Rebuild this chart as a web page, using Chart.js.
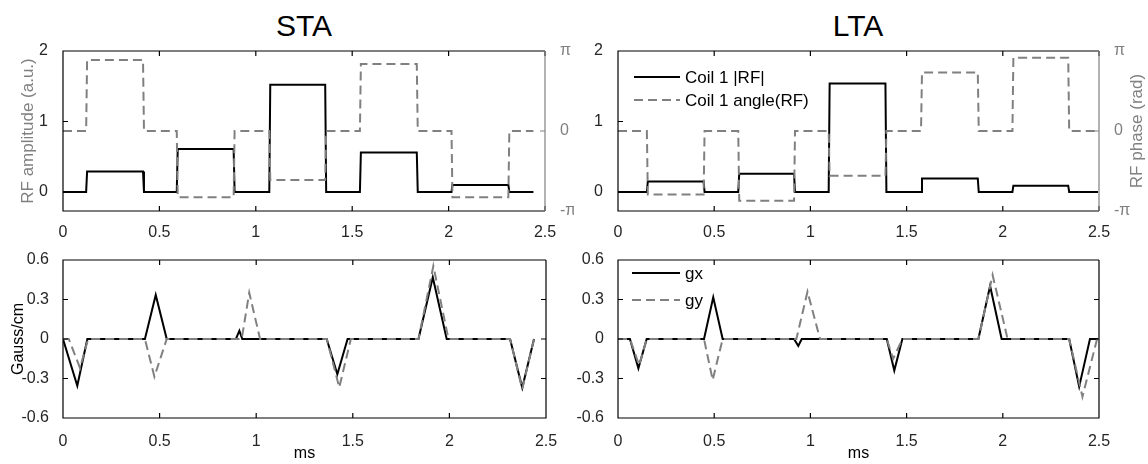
<!DOCTYPE html>
<html>
<head>
<meta charset="utf-8">
<script src="https://cdn.jsdelivr.net/npm/chart.js@4.4.1/dist/chart.umd.min.js"></script>
<style>
  body { margin: 0; background: #fff; }
  #wrap { position: relative; width: 1148px; height: 464px; font-family: "Liberation Sans", Arial, Helvetica, sans-serif; }
  #wrap canvas { position: absolute; }
  .title { position: absolute; top: 11px; width: 200px; text-align: center; font-size: 30px; line-height: 30px; color: #000; }
</style>
</head>
<body>
<div id="wrap">
  <div class="title" style="left:204px">STA</div>
  <div class="title" style="left:758px">LTA</div>
  <canvas id="staRf" width="574" height="240" style="left:0;top:0"></canvas>
  <canvas id="ltaRf" width="574" height="240" style="left:574px;top:0"></canvas>
  <canvas id="staGrad" width="574" height="224" style="left:0;top:240px"></canvas>
  <canvas id="ltaGrad" width="574" height="224" style="left:574px;top:240px"></canvas>
</div>
<script>
// tick values and labels
const xTicks = [0, 0.5, 1, 1.5, 2, 2.5];
const xTickLabels = ['0', '0.5', '1', '1.5', '2', '2.5'];
const ampTicks = [0, 1, 2];
const ampTickLabels = ['0', '1', '2'];
const phaseTicks = [-Math.PI, 0, Math.PI];
const phaseTickLabels = ['-π', '0', 'π'];
const gradTicks = [-0.6, -0.3, 0, 0.3, 0.6];
const gradTickLabels = ['-0.6', '-0.3', '0', '0.3', '0.6'];

// STA RF pulse (ms, a.u., rad)
const staRfTime  = [0, 0.12, 0.125, 0.415, 0.42, 0.59, 0.595, 0.885, 0.89, 1.07, 1.075, 1.36, 1.365, 1.54, 1.545, 1.835, 1.84, 2.015, 2.02, 2.31, 2.315, 2.44];
const staRfAmp   = [0, 0, 0.29, 0.29, 0, 0, 0.61, 0.61, 0, 0, 1.52, 1.52, 0, 0, 0.56, 0.56, 0, 0, 0.1, 0.1, 0, 0];
const staRfPhase = [0, 0, 2.79, 2.79, 0, 0, -2.6, -2.6, 0, 0, -1.92, -1.92, 0, 0, 2.63, 2.63, 0, 0, -2.6, -2.6, 0, 0];

// LTA RF pulse
const ltaRfTime  = [0, 0.15, 0.155, 0.445, 0.45, 0.625, 0.63, 0.915, 0.92, 1.095, 1.1, 1.39, 1.395, 1.575, 1.58, 1.87, 1.875, 2.05, 2.055, 2.34, 2.345, 2.495];
const ltaRfAmp   = [0, 0, 0.15, 0.15, 0, 0, 0.26, 0.26, 0, 0, 1.54, 1.54, 0, 0, 0.19, 0.19, 0, 0, 0.09, 0.09, 0, 0];
const ltaRfPhase = [0, 0, -2.49, -2.49, 0, 0, -2.74, -2.74, 0, 0, -1.76, -1.76, 0, 0, 2.3, 2.3, 0, 0, 2.88, 2.88, 0, 0];

// STA gradients (Gauss/cm)
const staGxTime = [0, 0.074, 0.126, 0.424, 0.48, 0.537, 0.895, 0.913, 0.928, 1.365, 1.42, 1.473, 1.84, 1.914, 1.986, 2.314, 2.377, 2.438];
const staGx     = [0, -0.355, 0, 0, 0.334, 0, 0, 0.063, 0, 0, -0.268, 0, 0, 0.469, 0, 0, -0.37, 0];
const staGyTime = [0, 0.03, 0.088, 0.13, 0.424, 0.473, 0.537, 0.925, 0.964, 1.02, 1.365, 1.43, 1.49, 1.84, 1.917, 1.995, 2.314, 2.377, 2.438];
const staGy     = [0, 0, -0.22, 0, 0, -0.286, 0, 0, 0.352, 0, 0, -0.367, 0, 0, 0.555, 0, 0, -0.38, 0];

// LTA gradients
const ltaGxTime = [0, 0.062, 0.106, 0.149, 0.447, 0.495, 0.544, 0.915, 0.937, 0.955, 1.397, 1.436, 1.478, 1.873, 1.934, 1.994, 2.345, 2.397, 2.453, 2.495];
const ltaGx     = [0, 0, -0.223, 0, 0, 0.317, 0, 0, -0.053, 0, 0, -0.24, 0, 0, 0.403, 0, 0, -0.362, 0, 0];
const ltaGyTime = [0, 0.062, 0.11, 0.149, 0.447, 0.492, 0.544, 0.927, 0.985, 1.05, 1.397, 1.43, 1.478, 1.873, 1.947, 2.025, 2.345, 2.414, 2.49];
const ltaGy     = [0, 0, -0.2, 0, 0, -0.311, 0, 0, 0.36, 0, 0, -0.15, 0, 0, 0.486, 0, 0, -0.438, 0];

const FONT = '"Liberation Sans", Arial, Helvetica, sans-serif';
const INK = '#262626';
const GRAY = '#808080';

function pts(t, v) {
    return t.map((x, i) => ({ x: x, y: v[i] }));
}

function fixedTicks(values) {
    return scale => { scale.ticks = values.map(v => ({ value: v })); };
}

// matlab-like box, inward ticks, inner legend, right-hand label
const matlabAxes = {
    id: 'matlabAxes',
    afterDatasetsDraw(chart, args, opts) {
        const { ctx, chartArea: a, scales } = chart;
        const tl = 5;
        ctx.save();
        ctx.lineWidth = 1.2;
        ctx.strokeStyle = '#000';
        ctx.beginPath();
        scales.x.ticks.forEach(tk => {
            const px = scales.x.getPixelForValue(tk.value);
            ctx.moveTo(px, a.bottom); ctx.lineTo(px, a.bottom - tl);
            ctx.moveTo(px, a.top); ctx.lineTo(px, a.top + tl);
        });
        scales.y.ticks.forEach(tk => {
            const py = scales.y.getPixelForValue(tk.value);
            ctx.moveTo(a.left, py); ctx.lineTo(a.left + tl, py);
            if (opts.mirrorY) { ctx.moveTo(a.right, py); ctx.lineTo(a.right - tl, py); }
        });
        ctx.moveTo(a.right, a.top); ctx.lineTo(a.left, a.top);
        ctx.lineTo(a.left, a.bottom); ctx.lineTo(a.right, a.bottom);
        if (opts.mirrorY) ctx.lineTo(a.right, a.top);
        ctx.stroke();

        if (scales.y2) {
            ctx.strokeStyle = GRAY;
            ctx.beginPath();
            ctx.moveTo(a.right, a.top); ctx.lineTo(a.right, a.bottom);
            scales.y2.ticks.forEach(tk => {
                const py = scales.y2.getPixelForValue(tk.value);
                ctx.moveTo(a.right, py); ctx.lineTo(a.right - tl, py);
            });
            ctx.stroke();
        }

        if (opts.legend) {
            const L = opts.legend;
            ctx.font = '17px ' + FONT;
            ctx.textBaseline = 'middle';
            ctx.textAlign = 'left';
            chart.data.datasets.forEach((ds, i) => {
                const y = a.top + L.y + i * L.gap;
                ctx.strokeStyle = ds.borderColor;
                ctx.lineWidth = ds.borderWidth;
                ctx.setLineDash(ds.borderDash || []);
                ctx.beginPath();
                ctx.moveTo(a.left + L.x, y);
                ctx.lineTo(a.left + L.x + L.len, y);
                ctx.stroke();
                ctx.setLineDash([]);
                ctx.fillStyle = '#000';
                ctx.fillText(ds.label, a.left + L.x + L.len + 5, y + 1);
            });
        }

        if (opts.rightTitle) {
            ctx.font = '17px ' + FONT;
            ctx.fillStyle = GRAY;
            ctx.textAlign = 'center';
            ctx.textBaseline = 'middle';
            ctx.translate(chart.width - 11, (a.top + a.bottom) / 2);
            ctx.rotate(-Math.PI / 2);
            ctx.fillText(opts.rightTitle, 0, 0);
        }
        ctx.restore();
    }
};

function xScale(height, withTitle) {
    return {
        type: 'linear', min: 0, max: 2.5,
        afterBuildTicks: fixedTicks(xTicks),
        afterFit: s => { s.height = height; },
        grid: { display: false }, border: { display: false },
        ticks: {
            autoSkip: false, maxRotation: 0, padding: withTitle ? 6 : 4, color: INK,
            font: { family: FONT, size: 16 },
            callback: (v, i) => xTickLabels[i]
        },
        title: {
            display: withTitle, text: 'ms', color: '#000',
            font: { family: FONT, size: 16 }, padding: { top: 0, bottom: 1 }
        }
    };
}

function rfChart(id, time, amp, phase, o) {
    return new Chart(document.getElementById(id), {
        type: 'line',
        data: {
            datasets: [
                { label: 'Coil 1 |RF|', data: pts(time, amp), yAxisID: 'y',
                  borderColor: '#000', borderWidth: 2, order: 1 },
                { label: 'Coil 1 angle(RF)', data: pts(time, phase), yAxisID: 'y2',
                  borderColor: GRAY, borderWidth: 2, borderDash: [9, 5], order: 0 }
            ]
        },
        options: {
            responsive: false, animation: false,
            layout: { padding: { top: 51, left: 0, right: 0, bottom: 0 } },
            elements: { point: { radius: 0 }, line: { tension: 0 } },
            plugins: {
                legend: { display: false }, tooltip: { enabled: false },
                matlabAxes: { legend: o.legend, rightTitle: o.rightTitle }
            },
            scales: {
                x: xScale(29, false),
                y: {
                    position: 'left', min: -0.27, max: 2,
                    afterBuildTicks: fixedTicks(ampTicks),
                    afterFit: s => { s.width = o.leftW; },
                    grid: { display: false }, border: { display: false },
                    ticks: { autoSkip: false, padding: 7, color: INK, font: { family: FONT, size: 16 },
                             callback: (v, i) => ampTickLabels[i] },
                    title: { display: !!o.leftTitle, text: o.leftTitle || '', color: GRAY,
                             font: { family: FONT, size: 17 }, padding: { top: 18, bottom: 0 } }
                },
                y2: {
                    position: 'right', min: -Math.PI, max: Math.PI,
                    afterBuildTicks: fixedTicks(phaseTicks),
                    afterFit: s => { s.width = o.rightW; },
                    grid: { display: false }, border: { display: false },
                    ticks: { autoSkip: false, padding: 7, color: GRAY, font: { family: FONT, size: 16 },
                             callback: (v, i) => phaseTickLabels[i] }
                }
            }
        },
        plugins: [matlabAxes]
    });
}

function gradChart(id, gxT, gx, gyT, gy, o) {
    return new Chart(document.getElementById(id), {
        type: 'line',
        data: {
            datasets: [
                { label: 'gx', data: pts(gxT, gx), borderColor: '#000', borderWidth: 2, order: 1 },
                { label: 'gy', data: pts(gyT, gy), borderColor: GRAY, borderWidth: 2, borderDash: [9, 5], order: 0 }
            ]
        },
        options: {
            responsive: false, animation: false,
            layout: { padding: { top: 20, left: 0, right: o.rightPad, bottom: 0 } },
            elements: { point: { radius: 0 }, line: { tension: 0 } },
            plugins: {
                legend: { display: false }, tooltip: { enabled: false },
                matlabAxes: { mirrorY: true, legend: o.legend }
            },
            scales: {
                x: xScale(46, true),
                y: {
                    position: 'left', min: -0.6, max: 0.6,
                    afterBuildTicks: fixedTicks(gradTicks),
                    afterFit: s => { s.width = o.leftW; },
                    grid: { display: false }, border: { display: false },
                    ticks: { autoSkip: false, padding: 6, color: INK, font: { family: FONT, size: 16 },
                             callback: (v, i) => gradTickLabels[i] },
                    title: { display: !!o.leftTitle, text: o.leftTitle || '', color: '#000',
                             font: { family: FONT, size: 16 }, padding: { top: 9, bottom: 0 } }
                }
            }
        },
        plugins: [matlabAxes]
    });
}

rfChart('staRf', staRfTime, staRfAmp, staRfPhase,
    { leftW: 63, rightW: 29, leftTitle: 'RF amplitude (a.u.)' });
rfChart('ltaRf', ltaRfTime, ltaRfAmp, ltaRfPhase,
    { leftW: 44, rightW: 49, rightTitle: 'RF phase (rad)', legend: { x: 16, y: 26, gap: 23, len: 46 } });
gradChart('staGrad', staGxTime, staGx, staGyTime, staGy,
    { leftW: 63, rightPad: 28, leftTitle: 'Gauss/cm' });
gradChart('ltaGrad', ltaGxTime, ltaGx, ltaGyTime, ltaGy,
    { leftW: 44, rightPad: 49, legend: { x: 14, y: 13, gap: 27, len: 48 } });
</script>
</body>
</html>
